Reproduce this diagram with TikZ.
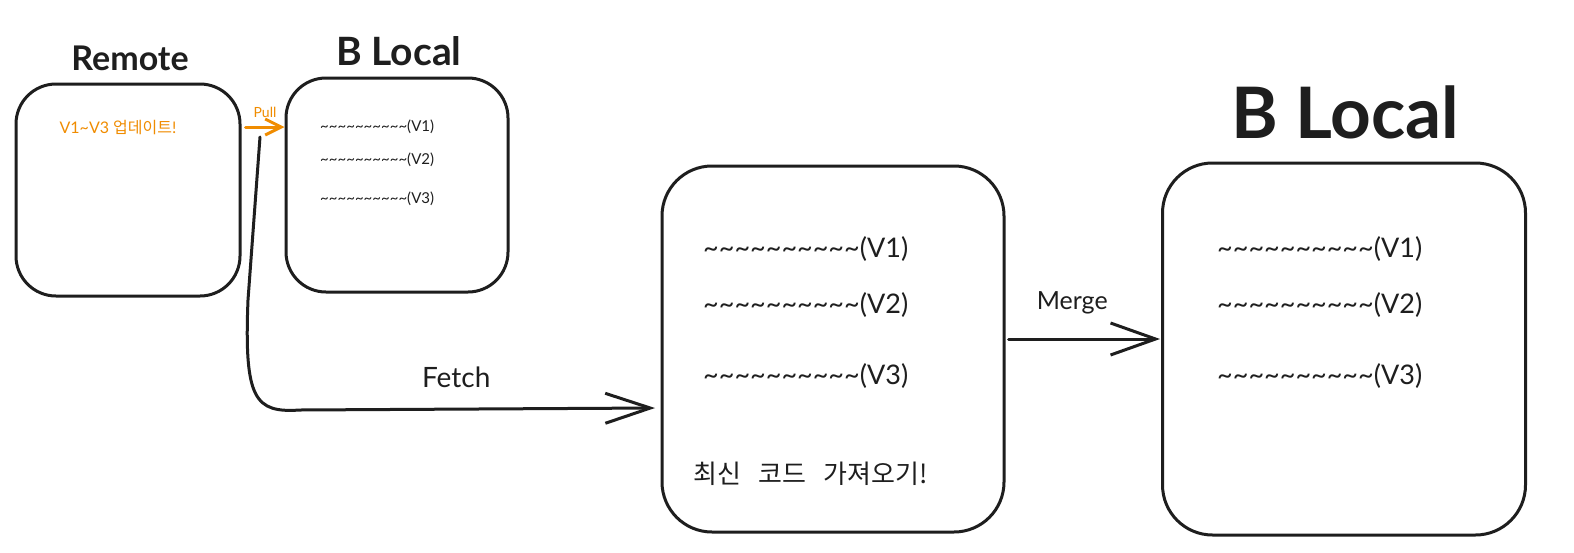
\documentclass[tikz,border=0pt]{standalone}
\usepackage{fontspec}
\setmainfont{Lato}
\newfontfamily\krfont{Noto Sans CJK KR}
\usetikzlibrary{arrows.meta, positioning}
\definecolor{ink}{HTML}{1E1E1E}
\definecolor{pullorange}{HTML}{F08C00}
\newcommand{\waves}{\textasciitilde\textasciitilde\textasciitilde\textasciitilde\textasciitilde\textasciitilde\textasciitilde\textasciitilde\textasciitilde\textasciitilde}

\begin{document}
\begin{tikzpicture}[
  x=1pt, y=-1pt,
  card/.style={rectangle, rounded corners=40pt, draw=ink, line width=3pt,
               inner sep=0pt},
  bigcard/.style={card, rounded corners=50pt},
  title/.style={inner sep=0pt, text=ink, font=\bfseries\fontsize{34}{40}\selectfont},
  verline/.style={anchor=west, inner sep=0pt, text=ink},
  arrow/.style={-{Straight Barb[length=45pt, width=32pt]}, line width=3pt,
                ink, line cap=round},
  pullarrow/.style={-{Straight Barb[length=16pt, width=16pt]}, line width=3pt,
                    pullorange, line cap=round}
]
\useasboundingbox[fill=white] (0,0) rectangle (1574,552);

% boxes
\node[card, minimum width=224pt, minimum height=212pt] (remote) at (128,190) {};
\node[card, minimum width=222pt, minimum height=214pt] (blocal) at (397,185) {};
\node[bigcard, minimum width=342pt, minimum height=366pt] (fetched) at (833,349) {};
\node[bigcard, minimum width=363pt, minimum height=372pt] (merged) at (1344,349) {};

% titles
\node[title] (remotetitle) at (130,58) {Remote};
\node[title, font=\bfseries\fontsize{39}{44}\selectfont] (blocaltitle) at (399,51) {B Local};
\node[title, font=\bfseries\fontsize{71}{76}\selectfont] (mergedtitle) at (1345,112) {B Local};

% remote note
\node[inner sep=0pt, text=pullorange, font=\fontsize{16}{18}\selectfont]
  (update) at (118,128) {V1\textasciitilde V3 {\krfont 업데이트}!};

% small local
\node[verline, font=\fontsize{15}{17}\selectfont] (s1) at (320,127) {\waves(V1)};
\node[verline, font=\fontsize{15}{17}\selectfont] (s2) at (320,160) {\waves(V2)};
\node[verline, font=\fontsize{15}{17}\selectfont] (s3) at (320,199) {\waves(V3)};

% fetched box
\node[verline, font=\fontsize{27}{30}\selectfont] (f1) at (703,249) {\waves(V1)};
\node[verline, font=\fontsize{27}{30}\selectfont] (f2) at (703,305) {\waves(V2)};
\node[verline, font=\fontsize{27}{30}\selectfont] (f3) at (703,376) {\waves(V3)};
\node[verline, font=\krfont\fontsize{26}{30}\selectfont] (latest) at (693,474)
  {최신\ \ \ 코드\ \ \ 가져오기!};

% merged box
\node[verline, font=\fontsize{27}{30}\selectfont] (m1) at (1217,249) {\waves(V1)};
\node[verline, font=\fontsize{27}{30}\selectfont] (m2) at (1217,305) {\waves(V2)};
\node[verline, font=\fontsize{27}{30}\selectfont] (m3) at (1217,376) {\waves(V3)};

% connectors
\coordinate (fetchstart) at (260,137);
\coordinate (fetchend) at (655,408);

\draw[pullarrow] ([xshift=4pt, yshift=63pt]remote.east) --
  node[above=8pt, inner sep=0pt, text=pullorange,
       font=\fontsize{14}{16}\selectfont] (pulllabel) {Pull}
  ([yshift=58pt]blocal.west);

\draw[arrow, -{Straight Barb[length=45pt, width=30pt]}] (fetchstart) -- (248,300)
  .. controls (244,400) and (255,413) .. (300,410)
  -- node[pos=0.44, above=20pt, inner sep=0pt, text=ink,
          font=\fontsize{28}{32}\selectfont] (fetchlabel) {Fetch}
  (fetchend);

\draw[arrow] ([xshift=3pt, yshift=10pt]fetched.east) --
  node[above=23pt, xshift=-12pt, inner sep=0pt, text=ink,
       font=\fontsize{25}{28}\selectfont] (mergelabel) {Merge}
  ([xshift=-1pt, yshift=10pt]merged.west);

\end{tikzpicture}
\end{document}
